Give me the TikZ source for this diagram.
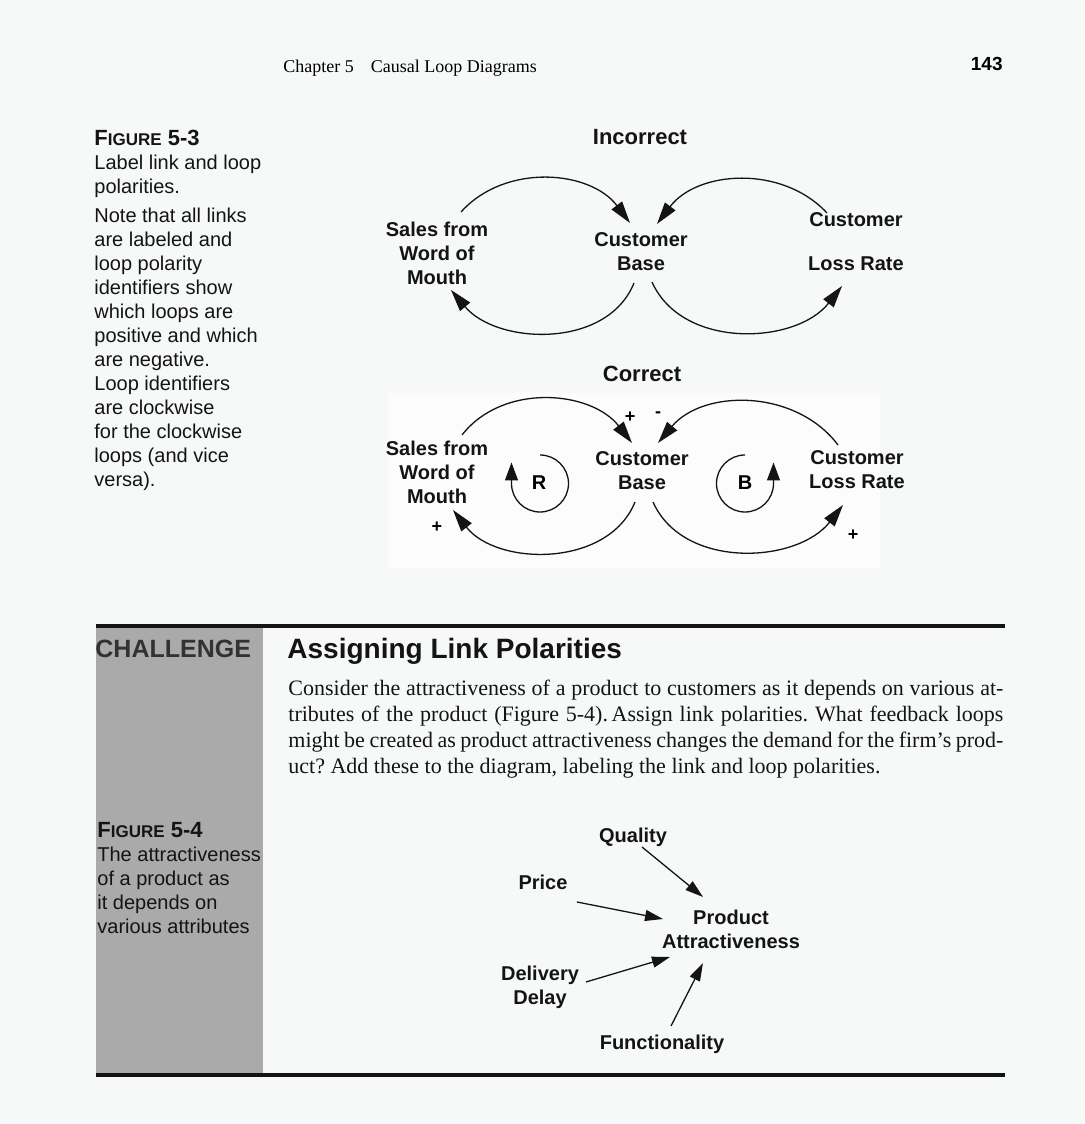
\documentclass[tikz,border=0pt]{standalone}
\usepackage{fontspec}
\setmainfont{Liberation Serif}
\setsansfont{Liberation Sans}
\usetikzlibrary{arrows.meta, calc, positioning}
\definecolor{pagecol}{RGB}{247, 249, 249}
\definecolor{patchcol}{RGB}{252, 252, 252}
\definecolor{sidecol}{RGB}{170, 170, 170}
\definecolor{inkcol}{RGB}{20, 20, 20}
\definecolor{stampcol}{RGB}{50, 50, 50}
\newcommand{\figtag}[1]{{\bfseries\fontsize{11}{13}\selectfont F\fontsize{8.5}{10}\selectfont IGURE\fontsize{11}{13}\selectfont\ #1}}
\tikzset{
  var/.style    = {align=center, font=\sffamily\bfseries\fontsize{10}{12}\selectfont,
                   inner sep=2pt, text=inkcol},
  title/.style  = {font=\sffamily\bfseries\fontsize{11}{13}\selectfont, text=inkcol,
                   inner sep=0pt},
  pol/.style    = {font=\sffamily\bfseries\fontsize{9}{10}\selectfont, inner sep=1pt},
  loopid/.style = {font=\sffamily\bfseries\fontsize{10}{12}\selectfont, inner sep=1pt},
  link/.style   = {-{Triangle[length=9pt, width=5.5pt]}, draw=inkcol, line width=0.65pt},
  % the causal loop links carry the heavier heads of the printed figure
  cld/.style    = {link, -{Triangle[length=11pt, width=6.5pt]}},
  turn/.style   = {link, -{Triangle[length=9pt, width=6.5pt]}},
  note/.style   = {align=left, font=\sffamily\fontsize{10}{12}\selectfont,
                   inner sep=0pt, anchor=north west, text=inkcol},
  rule/.style   = {draw=inkcol, line width=2pt},
}
\begin{document}
\begin{tikzpicture}[x=0.5pt, y=0.5pt]

  \fill[pagecol] (0,0) rectangle (1084,1124);
  \useasboundingbox (0,0) rectangle (1084,1124);

  %% ================ running head ================
  \node[anchor=base west, font=\fontsize{9}{11}\selectfont, inner sep=0pt] (head)
       at (283,1051) {Chapter 5\hspace{8.5pt}Causal Loop Diagrams};
  \node[anchor=base east, font=\sffamily\bfseries\fontsize{9.5}{11}\selectfont,
        inner sep=0pt] (folio) at (1003,1053) {143};

  %% ================ figure 5-3, caption ================
  \node[note] (cap53) at (94,994)
       {\figtag{5-3}\\
        Label link and loop\\
        polarities.\\[2.5pt]
        Note that all links\\
        are labeled and\\
        loop polarity\\
        identifiers show\\
        which loops are\\
        positive and which\\
        are negative.\\
        Loop identifiers\\
        are clockwise\\
        for the clockwise\\
        loops (and vice\\
        versa).};

  %% ================ incorrect ================
  \node[title, anchor=base] (wrong) at (640,979) {Incorrect};

  \node[var] (sales1) at (437,871) {Sales from\\Word of\\Mouth};
  \node[var] (base1)  at (641,872) {Customer\\Base};
  \node[var] (loss1)  at (856,882) {Customer\\[10pt]Loss Rate};

  \draw[cld] ([shift={(24,41)}]sales1.center) to[out=48, in=127]
             ([shift={(-11,29)}]base1.center);
  \draw[cld] ([shift={(-7,-31)}]base1.center) to[out=248, in=-50]
             ([shift={(14,-37)}]sales1.center);
  \draw[cld] ([shift={(-29,29)}]loss1.center) to[out=133, in=53]
             ([shift={(16,28)}]base1.center);
  \draw[cld] ([shift={(11,-30)}]base1.center) to[out=-66, in=232]
             ([shift={(-14,-44)}]loss1.center);

  %% ================ correct ================
  \fill[patchcol] (388,556) rectangle (880,731);
  \node[title, anchor=base] (right) at (642,742) {Correct};

  \node[var] (sales2) at (437,652) {Sales from\\Word of\\Mouth};
  \node[var] (base2)  at (642,653) {Customer\\Base};
  \node[var] (loss2)  at (857,654) {Customer\\Loss Rate};

  \draw[cld] ([shift={(25,37)}]sales2.center) to[out=52, in=128]
             ([shift={(-10,28)}]base2.center);
  \draw[cld] ([shift={(-7,-31)}]base2.center) to[out=248, in=-52]
             ([shift={(16,-38)}]sales2.center);
  \draw[cld] ([shift={(-19,25)}]loss2.center) to[out=127, in=50]
             ([shift={(16,28)}]base2.center);
  \draw[cld] ([shift={(11,-31)}]base2.center) to[out=-66, in=232]
             ([shift={(-14,-35)}]loss2.center);

  \node[pol] (p1) at (630,707) {+};
  \node[pol] (p2) at (658,709) {-};
  \node[pol] (p3) at (437,597) {+};
  \node[pol] (p4) at (853,589) {+};

  % loop identifiers: R turns clockwise, B the other way
  \node[loopid] (rid) at (539,641) {R};
  \draw[turn] ([shift={(1,28)}]rid.center)
              arc[start angle=90, end angle=-180, radius=14.25pt] -- ++(0,21);
  \node[loopid] (bid) at (745,641) {B};
  \draw[turn] ([shift={(0,28)}]bid.center)
              arc[start angle=90, end angle=360, radius=14.25pt] -- ++(0,21);

  %% ================ challenge box ================
  \fill[sidecol] (96,49) rectangle (263,497);
  \draw[rule] (96,498) -- (1005,498);
  \draw[rule] (96,49) -- (1005,49);

  \node[anchor=base west, font=\sffamily\bfseries\fontsize{12.5}{14}\selectfont,
        text=stampcol, inner sep=0pt] (stamp) at (95,466) {CHALLENGE};
  \node[anchor=base west, font=\sffamily\bfseries\fontsize{14}{16}\selectfont,
        text=inkcol, inner sep=0pt] (task) at (287,465) {Assigning Link Polarities};
  \node[anchor=north west, text width=357.5pt, align=justify, inner sep=0pt,
        font=\fontsize{11}{13}\selectfont\frenchspacing, text=inkcol] (body) at (288,444)
       {Consider the attractiveness of a product to customers as it depends on various at-\linebreak
        tributes of the product (Figure 5-4).\,Assign link polarities. What feedback loops\linebreak
        might be created as product attractiveness changes the demand for the firm’s prod-\linebreak
        uct? Add these to the diagram, labeling the link and loop polarities.};

  \node[note] (cap54) at (97,302)
       {\figtag{5-4}\\
        The attractiveness\\
        of a product as\\
        it depends on\\
        various attributes};

  %% ================ figure 5-4 ================
  \node[var] (quality) at (633,287) {Quality};
  \node[var] (price)   at (543,242) {Price};
  \node[var] (attract) at (731,195) {Product\\Attractiveness};
  \node[var] (delay)   at (540,137) {Delivery\\Delay};
  \node[var] (func)    at (662,80)  {Functionality};

  \draw[link] ([shift={(9,-10)}]quality.center) -- ([shift={(-28,32)}]attract.center);
  \draw[link] ([shift={(34,-20)}]price.center)  -- ([shift={(-68,10)}]attract.center);
  \draw[link] ([shift={(46,5)}]delay.center)    -- ([shift={(-61,-28)}]attract.center);
  \draw[link] ([shift={(9,18)}]func.center)     -- ([shift={(-28,-34)}]attract.center);

\end{tikzpicture}
\end{document}
